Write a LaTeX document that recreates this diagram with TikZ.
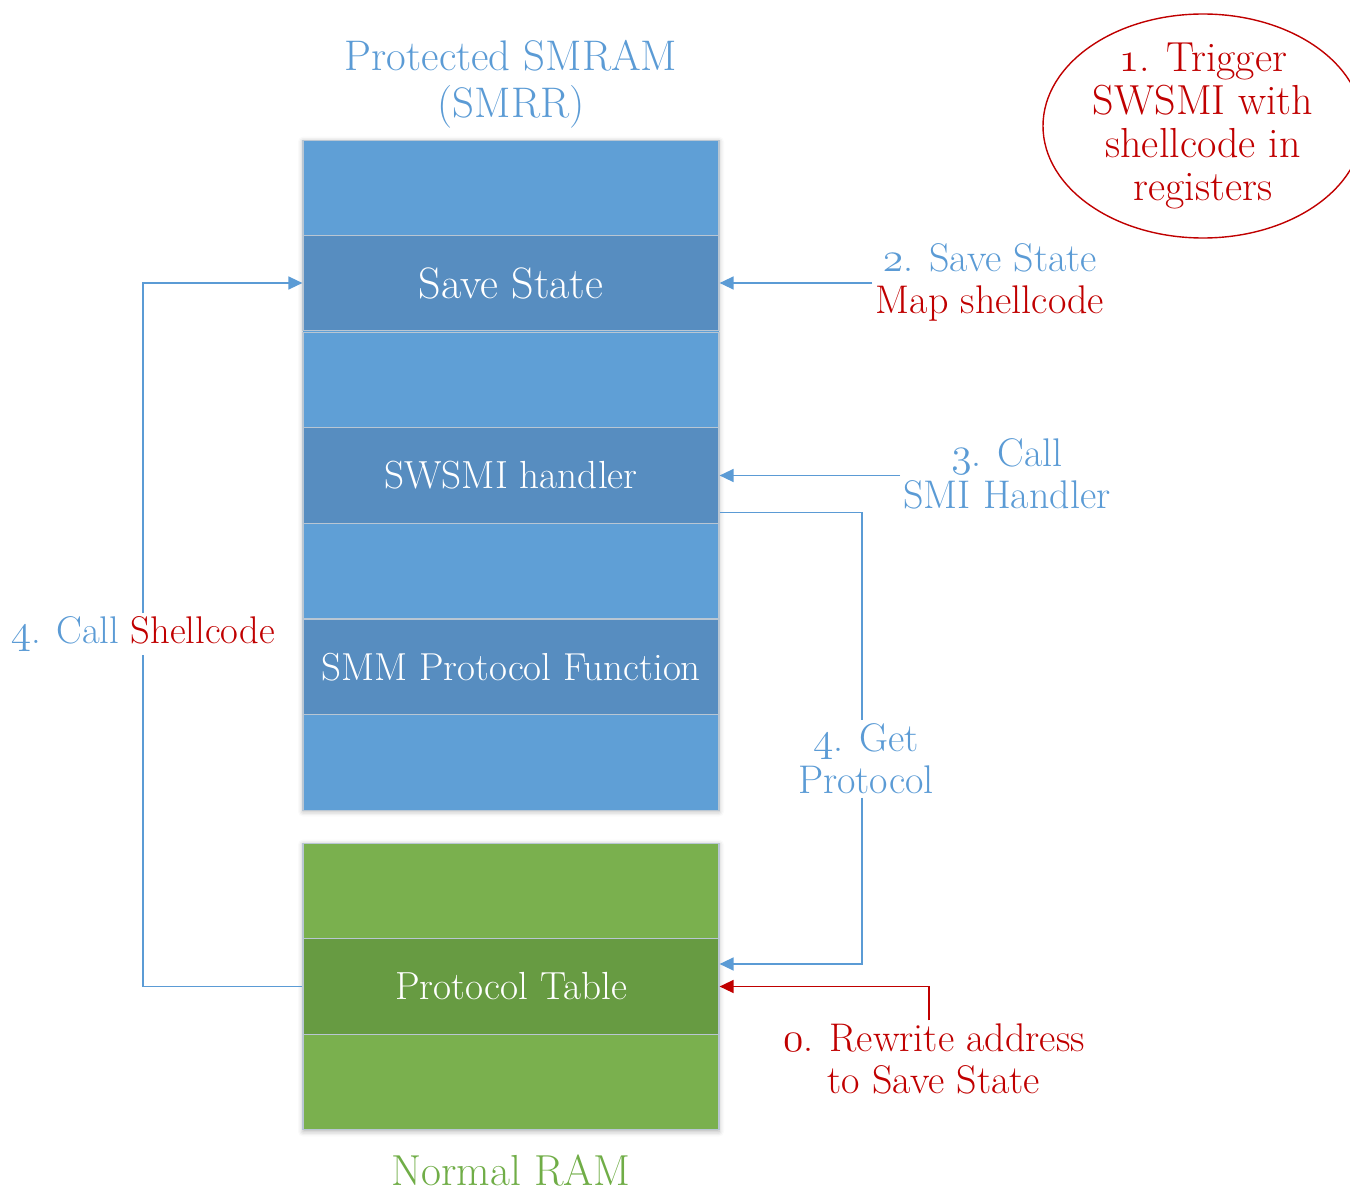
\documentclass[tikz,border=0pt]{standalone}
\usetikzlibrary{arrows.meta,calc,shapes.geometric,shadows.blur}
\definecolor{txtblue}{HTML}{5B9BD5}
\definecolor{txtred}{HTML}{C00000}
\definecolor{txtgreen}{HTML}{70AD47}
\definecolor{bandblue}{HTML}{5F9FD6}
\definecolor{bandbluedk}{HTML}{578DC0}
\definecolor{bandgreen}{HTML}{7AB04E}
\definecolor{bandgreendk}{HTML}{679B42}
\definecolor{bandline}{HTML}{B9C6D3}
% old-style figures for the step numbers
\newcommand\osf[1]{{\usefont{OML}{lmm}{m}{it}#1}}
\begin{document}
\begin{tikzpicture}[x=0.5pt,y=-0.5pt,
  band/.style={rectangle, minimum width=208pt, minimum height=47.86pt,
    inner sep=0pt, draw=bandline, line width=0.6pt, text=white,
    font=\fontsize{19.6}{23}\selectfont},
  bluelight/.style={band, fill=bandblue},
  bluedark/.style={band, fill=bandbluedk},
  greenlight/.style={band, fill=bandgreen},
  greendark/.style={band, fill=bandgreendk},
  lbl/.style={inner sep=1.5pt, align=center, font=\fontsize{20}{21}\selectfont},
  colshadow/.style={blur shadow={shadow xshift=0pt, shadow yshift=-0.8pt,
    shadow blur radius=2.5pt, shadow opacity=30}},
  wire/.style={line width=0.75pt, txtblue},
  conn/.style={wire, -{Triangle[length=7pt,width=6.5pt]}},
  rconn/.style={line width=0.75pt, txtred, -{Triangle[length=7pt,width=6.5pt]}}
]
\useasboundingbox (0,0) rectangle (1350,1193);
\clip (0,0) rectangle (1350,1193);

% column backgrounds with soft shadows
\fill[bandblue, colshadow] (303,140) rectangle (719,810);
\fill[bandgreen, colshadow] (303,843) rectangle (719,1130);

% protected SMRAM
\node[bluelight] (b1) at (511,188) {};
\node[bluedark, font=\fontsize{22}{26}\selectfont] (ss) at (511,283) {Save State};
\node[bluelight] (b3) at (511,380) {};
\node[bluedark] (sw) at (511,475.5) {SWSMI handler};
\node[bluelight] (b5) at (511,571) {};
\node[bluedark, font=\fontsize{19.5}{23}\selectfont] (pf) at (511,667) {SMM Protocol Function};
\node[bluelight] (b7) at (511,762.5) {};

% normal RAM
\node[greenlight] (g1) at (511,891) {};
\node[greendark] (pt) at (511,986.5) {Protocol Table};
\node[greenlight] (g3) at (511,1082) {};

% titles
\node[lbl, text=txtblue, font=\fontsize{21.4}{23.5}\selectfont] (title) at (511,84) {Protected SMRAM\\(SMRR)};
\node[lbl, text=txtgreen, font=\fontsize{21.7}{24}\selectfont] (nram) at (511,1170) {Normal RAM};

% step labels
\node[ellipse, draw=txtred, line width=0.7pt, minimum width=160pt, minimum height=112pt,
  inner sep=-8pt, text=txtred, align=center, font=\fontsize{21}{21.5}\selectfont]
  (trig) at (1203,126) {\osf{1}. Trigger\\SWSMI with\\shellcode in\\registers};
\node[lbl] (l2) at (990,282) {\textcolor{txtblue}{\osf{2}. Save State}\\\textcolor{txtred}{Map shellcode}};
\node[lbl, text=txtblue] (l3) at (1007,474) {\osf{3}. Call\\SMI Handler};
\node[lbl, text=txtblue] (gp) at (866,759) {\osf{4}. Get\\Protocol};
\node[lbl, text=txtred] (l0) at (934,1059) {\osf{0}. Rewrite address\\to Save State};
\node[lbl, font=\fontsize{19.3}{21}\selectfont] (lc) at (143,634) {\textcolor{txtblue}{\osf{4}. Call} \textcolor{txtred}{Shellcode}};

% connectors
\draw[conn] (l2.west |- ss.east) -- (ss.east);
\draw[conn] (l3.west |- sw.east) -- (sw.east);
\draw[wire] ($(sw.east)+(0,37)$) -| (gp.north -| 862,0);
\draw[conn] (gp.south -| 862,0) |- ($(pt.east)+(0,-22.5)$);
\draw[rconn] ($(l0.north)+(-5,0)$) |- (pt.east);
\draw[wire] (pt.west) -| (lc.south);
\draw[conn] (lc.north) |- (ss.west);
\end{tikzpicture}
\end{document}
